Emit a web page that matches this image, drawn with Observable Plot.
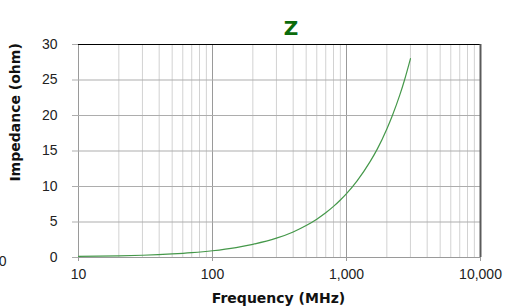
<!DOCTYPE html>
<html><head><meta charset="utf-8">
<script src="https://cdn.jsdelivr.net/npm/d3@7"></script>
<script src="https://cdn.jsdelivr.net/npm/@observablehq/plot@0.6"></script>
<style>body{margin:0;background:#fff}</style>
</head><body><div id="chart"></div>
<script>
const frequencies = [10, 20, 30, 50, 70, 100, 150, 200, 300, 400, 500, 600, 700, 800, 900, 1000, 1200, 1500, 1700, 2000, 2200, 2500, 2700, 3000];
const impedance = [0.15, 0.24, 0.32, 0.5, 0.68, 0.95, 1.4, 1.85, 2.72, 3.6, 4.5, 5.4, 6.3, 7.2, 8.1, 9.0, 10.8, 13.5, 15.3, 18.1, 20.0, 22.9, 24.9, 28.0];
const xTicks = [10, 100, 1000, 10000];
const yTicks = [0, 5, 10, 15, 20, 25, 30];
const title = "Z";
const xLabel = "Frequency (MHz)";
const yLabel = "Impedance (ohm)";
const strayLabel = "0";

const data = frequencies.map((f, i) => ({f, z: impedance[i]}));
const minorTicks = d3.scaleLog().domain([xTicks[0], xTicks[xTicks.length - 1]]).ticks().filter(t => !xTicks.includes(t));

const plot = Plot.plot({
  width: 515, height: 306,
  marginLeft: 78, marginRight: 35, marginTop: 44, marginBottom: 49,
  style: {fontFamily: "'Liberation Sans', Arial, sans-serif", fontSize: "14px", color: "#222", background: "#fff", overflow: "visible"},
  x: {type: "log", domain: [10, 10000]},
  y: {domain: [0, 30]},
  marks: [
    Plot.ruleX(minorTicks, {stroke: "#d2d2d2"}),
    Plot.ruleX(xTicks.slice(0, 3), {stroke: "#9a9a9a"}),
    Plot.gridY(yTicks.slice(1, -1), {stroke: "#adadad", strokeOpacity: 1}),
    Plot.ruleY([0], {stroke: "#9a9a9a"}),
    Plot.ruleY([30], {stroke: "#000"}),
    Plot.ruleX([10000], {stroke: "#5a5a5a", strokeWidth: 2}),
    Plot.axisY({ticks: yTicks, tickSize: 6, tickPadding: 15, stroke: "#adadad", fill: "#222", label: null}),
    Plot.axisX({ticks: xTicks, tickFormat: d3.format(","), tickSize: 4, tickPadding: 8, stroke: "#9a9a9a", fill: "#222", label: null}),
    Plot.line(data, {x: "f", y: "z", stroke: "#45984a", strokeWidth: 1.2, curve: "monotone-x"}),
    Plot.text([title], {frameAnchor: "top", lineAnchor: "bottom", dx: 11.5, dy: -10, fontSize: 20, fontWeight: "bold", fill: "#0b6b0b", fontFamily: "'DejaVu Sans', sans-serif"}),
    Plot.text([xLabel], {frameAnchor: "bottom", lineAnchor: "bottom", dx: -1, dy: 45, fontSize: 14, fontWeight: "bold", fill: "#111", fontFamily: "'DejaVu Sans', sans-serif"}),
    Plot.text([yLabel], {frameAnchor: "left", rotate: -90, dx: -63, dy: 30.6, fontSize: 14, fontWeight: "bold", fill: "#111", fontFamily: "'DejaVu Sans', sans-serif"}),
    Plot.text([strayLabel], {frameAnchor: "bottom-left", textAnchor: "end", dx: -72, dy: 8, fontSize: 14, fill: "#222"})
  ]
});
document.getElementById("chart").append(plot);
</script>
</body></html>
